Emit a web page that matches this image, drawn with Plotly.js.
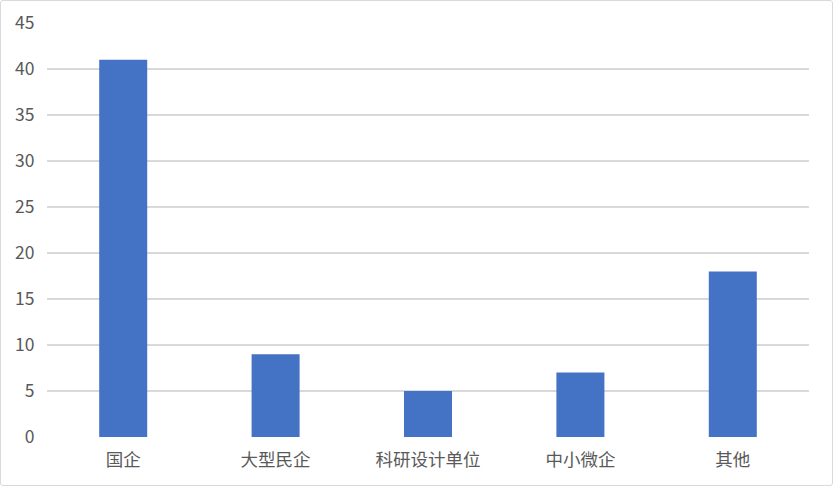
<!DOCTYPE html>
<html>
<head>
<meta charset="utf-8">
<script src="https://cdn.plot.ly/plotly-3.0.1.min.js"></script>
<style>
  html, body { margin: 0; padding: 0; background: #fff; }
  #wrap { position: relative; width: 833px; height: 486px; }
  #chart { width: 833px; height: 486px; }
  #frame {
    position: absolute; left: 0; top: 0; width: 831px; height: 484px;
    border: 1px solid #d9d9d9; border-radius: 3px; pointer-events: none;
  }
</style>
</head>
<body>
<div id="wrap">
  <div id="chart"></div>
  <div id="frame"></div>
</div>
<script>
document.addEventListener("DOMContentLoaded", () => {
  const Plotly = window.Plotly;

  // data
  const categories = ["国企", "大型民企", "科研设计单位", "中小微企", "其他"];
  const counts = [41, 9, 5, 7, 18];
  const yTicks = [0, 5, 10, 15, 20, 25, 30, 35, 40, 45];

  const trace = {
    type: "bar",
    x: categories,
    y: counts,
    marker: { color: "#4472c4" },
    hoverinfo: "x+y"
  };

  const font = { family: "'Noto Sans CJK SC', 'DejaVu Sans', sans-serif", size: 17.5, color: "#595959" };

  Plotly.newPlot("chart", [trace], {
    width: 833,
    height: 486,
    margin: { l: 47, r: 24, t: 23, b: 49 },
    bargap: 0.685,
    paper_bgcolor: "#ffffff",
    plot_bgcolor: "#ffffff",
    font: font,
    showlegend: false,
    xaxis: {
      type: "category",
      showgrid: false,
      zeroline: false,
      showline: false,
      ticks: "outside",
      ticklen: 7,
      tickcolor: "rgba(0,0,0,0)",
      tickfont: font
    },
    yaxis: {
      range: [0, 45],
      tickvals: yTicks,
      ticktext: yTicks.map(String),
      showgrid: true,
      gridcolor: "#d9d9d9",
      gridwidth: 1.3,
      zeroline: false,
      showline: false,
      ticks: "outside",
      ticklen: 8,
      tickcolor: "rgba(0,0,0,0)",
      tickfont: font
    }
  }, { displayModeBar: false, staticPlot: true });
});
</script>
</body>
</html>
